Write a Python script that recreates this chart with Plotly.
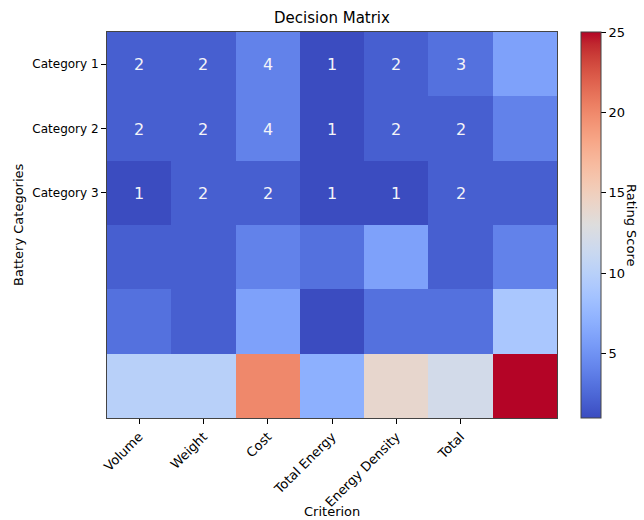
import plotly.graph_objects as go

criteria = ["Volume", "Weight", "Cost", "Total Energy", "Energy Density", "Total"]
categories = ["Category 1", "Category 2", "Category 3"]

row_1 = [2, 2, 4, 1, 2, 3, 6]
row_2 = [2, 2, 4, 1, 2, 2, 4]
row_3 = [1, 2, 2, 1, 1, 2, 2]
row_4 = [2, 2, 4, 3, 6, 2, 4]
row_5 = [3, 2, 6, 1, 3, 3, 9]
row_6 = [10, 10, 20, 7, 14, 12, 25]
z = [row_1, row_2, row_3, row_4, row_5, row_6]

colorbar_ticks = [5, 10, 15, 20, 25]

cw = [
    (59, 76, 192), (68, 90, 204), (77, 104, 215), (87, 117, 225), (98, 130, 234),
    (108, 142, 241), (119, 154, 247), (130, 165, 251), (141, 176, 254), (152, 185, 255),
    (163, 194, 255), (174, 201, 253), (184, 208, 249), (194, 213, 244), (204, 217, 238),
    (213, 219, 230), (221, 221, 221), (229, 216, 209), (236, 211, 197), (241, 204, 184),
    (245, 196, 172), (247, 187, 160), (247, 177, 148), (247, 166, 135), (244, 154, 123),
    (241, 141, 111), (236, 127, 99), (229, 112, 88), (222, 96, 77), (213, 80, 66),
    (203, 62, 56), (192, 40, 47), (180, 4, 38)]
colorscale = [[i / (len(cw) - 1), "rgb(%d,%d,%d)" % c] for i, c in enumerate(cw)]

# annotations only for first 3 rows and 6 columns
text = []
for r, row in enumerate(z):
    text.append([str(v) if (r < 3 and c < 6) else "" for c, v in enumerate(row)])

FONT = "DejaVu Sans"
W, H = 644, 520
L, R, T, B = 107, 557, 32, 418

fig = go.Figure(go.Heatmap(
    z=z, x=list(range(7)), y=list(range(6)),
    text=text, texttemplate="%{text}",
    textfont=dict(family=FONT, size=16, color="#f4f4f8"),
    colorscale=colorscale, zmin=1, zmax=25,
    xgap=0, ygap=0, hoverinfo="skip",
    colorbar=dict(
        thickness=20, len=B - T, lenmode="pixels",
        x=1 + (581 - R) / (R - L), xanchor="left", xpad=0,
        y=1, yanchor="top", ypad=0,
        tickvals=colorbar_ticks, ticks="outside", ticklen=5, tickcolor="black",
        tickfont=dict(family=FONT, size=13, color="black"),
        outlinewidth=1, outlinecolor="#444",
    ),
))

fig.update_layout(
    width=W, height=H,
    margin=dict(l=L, r=W - R, t=T, b=H - B, autoexpand=False),
    plot_bgcolor="white", paper_bgcolor="white",
    font=dict(family=FONT, color="black"),
    title=dict(text="Decision Matrix", x=(L + R) / 2 / W, xanchor="center",
               y=1 - 18 / H, yanchor="middle", yref="container",
               font=dict(family=FONT, size=15, color="black")),
    xaxis=dict(range=[-0.5, 6.5], tickvals=list(range(6)), ticktext=criteria,
               tickangle=-45, ticks="outside", ticklen=5, tickcolor="black",
               showline=True, linecolor="#444", linewidth=1, mirror=True,
               showgrid=False, zeroline=False, automargin=False,
               tickfont=dict(family=FONT, size=13, color="black")),
    yaxis=dict(range=[5.5, -0.5], tickvals=[0, 1, 2], ticktext=categories,
               ticks="outside", ticklen=5, tickcolor="black",
               showline=True, linecolor="#444", linewidth=1, mirror=True,
               showgrid=False, zeroline=False, automargin=False,
               tickfont=dict(family=FONT, size=12, color="black")),
    annotations=[
        dict(text="Criterion", xref="paper", yref="paper",
             x=0.5, y=-(511 - B) / (B - T), xanchor="center", yanchor="middle",
             showarrow=False, font=dict(family=FONT, size=13, color="black")),
        dict(text="Battery Categories", xref="paper", yref="paper",
             x=-(L - 18) / (R - L), y=0.5, xanchor="center", yanchor="middle",
             textangle=-90, showarrow=False, font=dict(family=FONT, size=13, color="black")),
        dict(text="Rating Score", xref="paper", yref="paper",
             x=1 + (632 - R) / (R - L), y=0.5, xanchor="center", yanchor="middle",
             textangle=90, showarrow=False, font=dict(family=FONT, size=13, color="black")),
    ],
)

fig.write_html("out.html", config={"displayModeBar": False},
               post_script="document.body.style.margin='0';document.body.style.padding='0';")
